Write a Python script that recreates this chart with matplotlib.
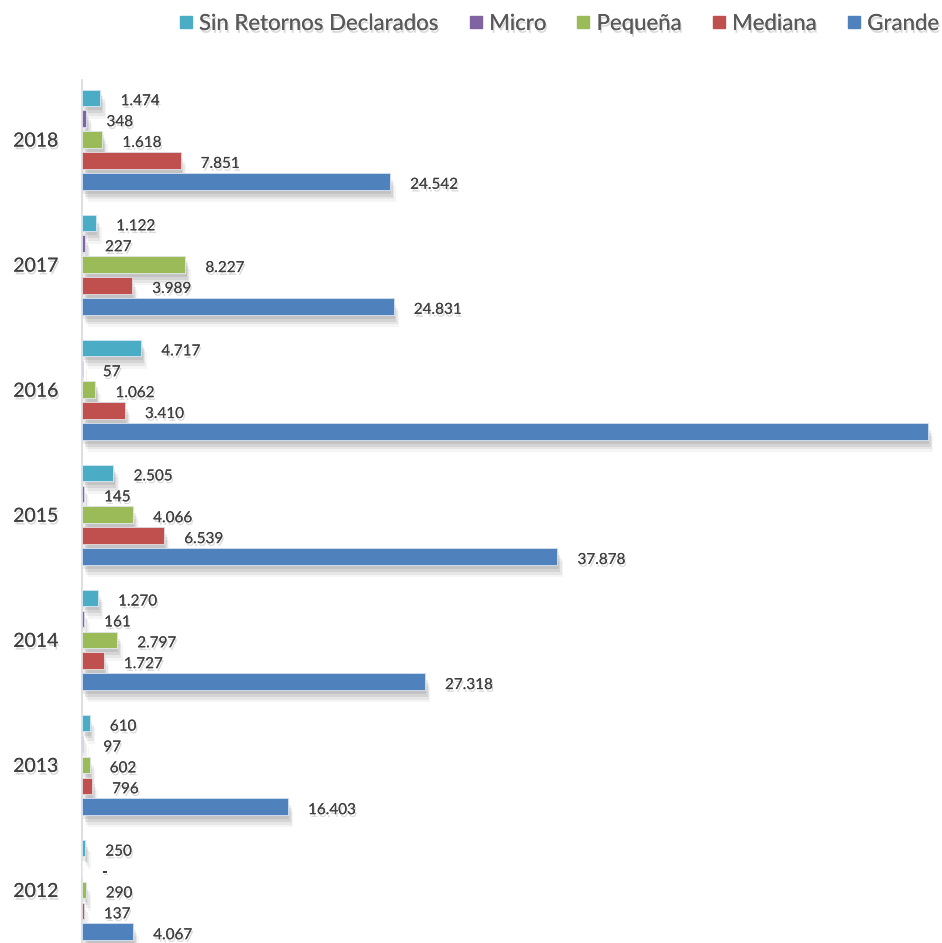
import numpy as np
import matplotlib
matplotlib.use("Agg")
import matplotlib.pyplot as plt
import matplotlib.patheffects as pe
from matplotlib.lines import Line2D

plt.rcParams['font.family'] = ['Lato', 'DejaVu Sans']

# Data (bottom to top)
years = ['2012', '2013', '2014', '2015', '2016', '2017', '2018']
series = ['Sin Retornos Declarados', 'Micro', 'Pequeña', 'Mediana', 'Grande']
colors = ['#4BACC6', '#8064A2', '#9BBB59', '#C0504D', '#4F81BD']

sin_retornos = [250, 610, 1270, 2505, 4717, 1122, 1474]
micro = [0, 97, 161, 145, 57, 227, 348]
pequena = [290, 602, 2797, 4066, 1062, 8227, 1618]
mediana = [137, 796, 1727, 6539, 3410, 3989, 7851]
grande = [4067, 16403, 27318, 37878, 67400, 24831, 24542]
values = [sin_retornos, micro, pequena, mediana, grande]

# the 2016 "Grande" bar has no visible label in the original
hide_label = {(4, 4)}

fig = plt.figure(figsize=(9.42, 9.43), dpi=100)
ax = fig.add_axes([82 / 942, 0, 860 / 942, 863 / 943])

pitch = 0.167
height = 0.132
offsets = [2, 1, 0, -1, -2]
y = np.arange(len(years))

shadow = [
    pe.withSimplePatchShadow(offset=(1, -3), shadow_rgbFace='#000000', alpha=0.08),
    pe.withSimplePatchShadow(offset=(2, -5), shadow_rgbFace='#000000', alpha=0.08),
    pe.withSimplePatchShadow(offset=(3, -7), shadow_rgbFace='#000000', alpha=0.06),
    pe.withSimplePatchShadow(offset=(4, -9), shadow_rgbFace='#000000', alpha=0.04),
    pe.Normal(),
]
text_shadow = [pe.withSimplePatchShadow(offset=(1, -2), shadow_rgbFace='#000000', alpha=0.15),
               pe.Normal()]

for s, (vals, col, off) in enumerate(zip(values, colors, offsets)):
    ypos = y + off * pitch
    bars = ax.barh(ypos, vals, height=height, color=col, edgecolor='#E8EEF7',
                   linewidth=0.5, zorder=3)
    for b in bars:
        b.set_path_effects(shadow)
    for i, v in enumerate(vals):
        if (i, s) in hide_label:
            continue
        txt = f"{v:,}".replace(",", ".") if v > 0 else "-"
        ax.annotate(txt, xy=(v, ypos[i]), xytext=(14.5, -2.5), textcoords='offset points',
                    va='center', ha='left', fontsize=11, color='#404040',
                    path_effects=text_shadow)

ax.set_xlim(0, 860 / 0.01255)
ax.set_ylim(-0.424, 6.476)
ax.set_yticks(y)
ax.set_yticklabels(years, fontsize=14, color='#404040')
for t in ax.get_yticklabels():
    t.set_path_effects(text_shadow)
ax.tick_params(axis='y', length=0, pad=17)
ax.set_xticks([])
for side in ['top', 'right', 'bottom']:
    ax.spines[side].set_visible(False)
ax.spines['left'].set_color('#D9D9D9')
ax.spines['left'].set_linewidth(1.2)

handles = [Line2D([], [], marker='s', linestyle='none', markersize=8,
                  markerfacecolor=c, markeredgecolor=c) for c in colors]
leg = fig.legend(handles, series, loc='center right', bbox_to_anchor=(1.007, 1 - 24 / 943),
                 ncol=5, frameon=False, fontsize=16, handletextpad=0.1,
                 columnspacing=1.15, handlelength=1.0, borderaxespad=0.0)
for t in leg.get_texts():
    t.set_color('#595959')
    t.set_path_effects(text_shadow)

fig.savefig('out.png', dpi=100)
